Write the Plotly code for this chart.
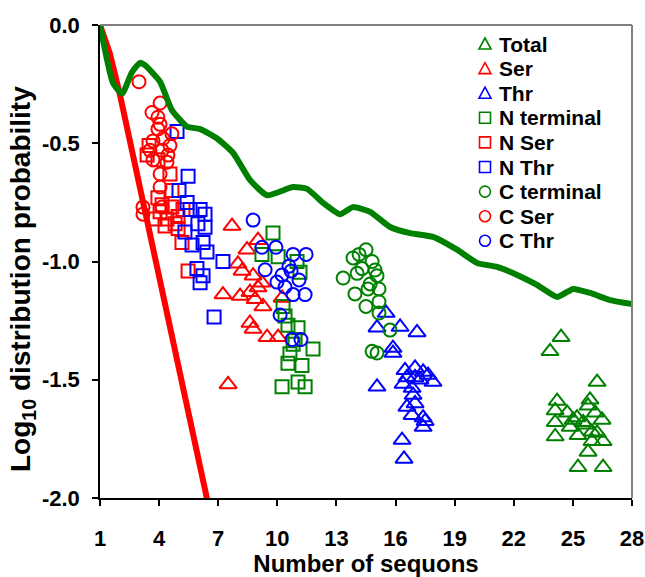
import plotly.graph_objects as go

# ---- observed sequon-count clusters (x = number of sequons, y = log10 probability) ----
total_x = [24.40, 23.84, 26.23, 24.20, 24.10, 24.71, 25.21, 25.01, 25.77, 25.87, 26.13, 26.48,
           24.10, 24.86, 25.62, 25.97, 26.23, 24.10, 25.26, 25.97, 26.53, 25.77, 25.26, 26.53, 25.52]
total_y = [-1.32, -1.38, -1.51, -1.59, -1.63, -1.64, -1.66, -1.67, -1.61, -1.585, -1.64, -1.67,
           -1.68, -1.70, -1.69, -1.72, -1.725, -1.74, -1.735, -1.76, -1.76, -1.805, -1.87, -1.87, -1.68]

ser_x = [7.70, 8.46, 9.02, 8.00, 8.21, 8.77, 9.22, 9.02, 8.61, 8.11, 7.24, 8.87, 9.27, 10.24,
         8.61, 8.77, 9.48, 10.04, 7.50]
ser_y = [-0.85, -0.95, -0.91, -1.01, -1.04, -1.06, -1.09, -1.11, -1.13, -1.146, -1.14, -1.16, -1.19,
         -1.154, -1.26, -1.285, -1.32, -1.32, -1.52]

thr_x = [15.52, 15.06, 16.23, 17.09, 15.87, 15.87, 15.06, 16.48, 16.99, 17.40, 17.65, 16.58, 16.99,
         17.90, 16.38, 16.84, 16.89, 16.99, 16.58, 16.84, 17.40, 17.50, 17.40, 16.33, 16.43, 17.24]
thr_y = [-1.218, -1.28, -1.277, -1.30, -1.366, -1.387, -1.53, -1.46, -1.45, -1.467, -1.48, -1.49, -1.49,
         -1.51, -1.518, -1.535, -1.565, -1.60, -1.615, -1.65, -1.66, -1.675, -1.70, -1.755, -1.835, -1.50]

nterm_x = [9.78, 9.22, 10.04, 11.00, 11.15, 10.29, 10.54, 11.05, 10.80, 11.81, 10.64, 10.54, 11.25,
           10.24, 11.05, 11.41, 10.39, 10.90]
nterm_y = [-0.88, -0.97, -0.98, -1.00, -1.045, -1.19, -1.27, -1.28, -1.35, -1.37, -1.39, -1.43, -1.44,
           -1.53, -1.51, -1.53, -1.23, -1.33]

nser_x = [3.49, 3.39, 3.94, 4.55, 4.65, 3.94, 4.15, 4.65, 4.05, 4.40, 4.96, 4.81, 5.21, 5.16, 5.47,
          4.96, 4.30, 3.79]
nser_y = [-0.51, -0.55, -0.57, -0.63, -0.70, -0.73, -0.76, -0.77, -0.79, -0.82, -0.81, -0.84, -0.78,
          -0.92, -1.04, -0.86, -0.85, -0.82]

nthr_x = [4.91, 5.47, 5.01, 5.42, 6.08, 5.97, 5.31, 6.33, 5.67, 6.23, 6.43, 7.24, 5.92, 6.23, 6.08,
          6.79, 5.57, 6.33]
nthr_y = [-0.45, -0.64, -0.70, -0.75, -0.78, -0.84, -0.875, -0.855, -0.93, -0.92, -0.96, -1.00, -1.03,
          -1.06, -1.09, -1.235, -0.78, -0.80]

cterm_x = [14.50, 14.15, 13.84, 13.34, 14.05, 14.96, 15.06, 14.71, 14.60, 15.16, 13.94, 15.16, 14.50,
           15.16, 15.72, 14.81, 15.06, 14.30, 14.81]
cterm_y = [-0.95, -0.97, -0.985, -1.07, -1.05, -1.036, -1.06, -1.095, -1.116, -1.116, -1.137, -1.17,
           -1.19, -1.218, -1.29, -1.38, -1.387, -1.03, -1.00]

cser_x = [2.98, 4.05, 3.64, 3.94, 4.05, 3.94, 4.65, 4.20, 3.69, 4.55, 4.15, 3.54, 4.45, 3.69, 4.40,
          4.05, 4.05, 3.18, 3.18, 4.15]
cser_y = [-0.24, -0.33, -0.37, -0.39, -0.42, -0.44, -0.46, -0.48, -0.49, -0.51, -0.53, -0.53, -0.55,
          -0.57, -0.58, -0.63, -0.685, -0.77, -0.80, -0.77]

cthr_x = [8.77, 9.22, 9.93, 10.80, 11.46, 9.38, 10.59, 10.24, 9.98, 10.39, 11.10, 10.80, 11.41, 10.14,
          10.75, 11.20, 10.70]
cthr_y = [-0.825, -0.94, -0.94, -0.97, -0.97, -1.035, -1.02, -1.057, -1.087, -1.108, -1.078, -1.14,
          -1.14, -1.226, -1.33, -1.33, -1.04]

# ---- reference distributions ----
red_curve_x = [1, 1.5, 2, 3, 4, 5, 6, 6.5]
red_curve_y = [0, -0.12, -0.29, -0.675, -1.06, -1.45, -1.83, -2.03]

green_curve_x = [1, 1.66, 2.12, 2.62, 3.03, 3.28, 4.05, 4.65, 5.42, 6.08, 6.94, 7.75, 8.61, 9.48,
                 10.80, 11.51, 12.32, 13.18, 13.84, 14.71, 15.72, 16.74, 17.90, 19.12, 20.14, 21.15,
                 22.17, 23.18, 24.20, 25.01, 25.87, 26.89, 28]
green_curve_y = [0, -0.245, -0.29, -0.20, -0.16, -0.17, -0.24, -0.36, -0.43, -0.44, -0.48, -0.54,
                 -0.655, -0.72, -0.685, -0.693, -0.752, -0.80, -0.77, -0.79, -0.854, -0.88, -0.896,
                 -0.95, -1.006, -1.023, -1.057, -1.099, -1.15, -1.116, -1.133, -1.163, -1.18]

x_ticks = [1, 4, 7, 10, 13, 16, 19, 22, 25, 28]
y_ticks = [0, -0.5, -1.0, -1.5, -2.0]
y_tick_labels = ["0.0", "-0.5", "-1.0", "-1.5", "-2.0"]

GREEN, RED, BLUE = "#008000", "#FF0000", "#0000FF"
FONT = "Liberation Sans, Arial, sans-serif"
W, H = 645, 577
M_L, M_R, M_T, M_B = 100, 13, 25, 79

# name, x, y, plot symbol, colour, size, key shape
series = [
    ("Total", total_x, total_y, "triangle-up-open", GREEN, 15, "triangle"),
    ("Ser", ser_x, ser_y, "triangle-up-open", RED, 15, "triangle"),
    ("Thr", thr_x, thr_y, "triangle-up-open", BLUE, 15, "triangle"),
    ("N terminal", nterm_x, nterm_y, "square-open", GREEN, 13, "square"),
    ("N Ser", nser_x, nser_y, "square-open", RED, 13, "square"),
    ("N Thr", nthr_x, nthr_y, "square-open", BLUE, 13, "square"),
    ("C terminal", cterm_x, cterm_y, "circle-open", GREEN, 13, "circle"),
    ("C Ser", cser_x, cser_y, "circle-open", RED, 13, "circle"),
    ("C Thr", cthr_x, cthr_y, "circle-open", BLUE, 13, "circle"),
]

fig = go.Figure()
for name, xs, ys, sym, col, size, _ in series:
    fig.add_trace(go.Scatter(
        x=xs, y=ys, mode="markers", name=name, showlegend=False,
        marker=dict(symbol=sym, size=size, color=col, line=dict(width=2, color=col)),
    ))

fig.add_trace(go.Scatter(x=red_curve_x, y=red_curve_y, mode="lines", showlegend=False,
                         line=dict(color=RED, width=6)))
fig.add_trace(go.Scatter(x=green_curve_x, y=green_curve_y, mode="lines", showlegend=False,
                         line=dict(color=GREEN, width=6, shape="spline", smoothing=0.5)))

# compact key in the upper-right corner of the plotting area
plot_w = W - M_L - M_R
plot_h = H - M_T - M_B
key_symbol_px, key_text_px = 485, 497
key_first_row_px, key_row_step = 44, 24.6
half = 5.5

annotations = []
shapes = [
    dict(type="line", xref="paper", yref="paper", x0=0, x1=1, y0=1, y1=1,
         line=dict(color="#808080", width=2)),
    dict(type="line", xref="paper", yref="paper", x0=1, x1=1, y0=0, y1=1,
         line=dict(color="#808080", width=2)),
]
for i, (name, _, _, _, col, _, key) in enumerate(series):
    row_y = 1 - (key_first_row_px + i * key_row_step - M_T) / plot_h
    anchor_x = (key_symbol_px - M_L) / plot_w
    base = dict(xref="paper", yref="paper", xsizemode="pixel", ysizemode="pixel",
                xanchor=anchor_x, yanchor=row_y, line=dict(color=col, width=1.6),
                fillcolor="rgba(0,0,0,0)")
    if key == "triangle":
        shapes.append(dict(base, type="path", path="M -6,-5 L 6,-5 L 0,6 Z"))
    elif key == "square":
        shapes.append(dict(base, type="rect", x0=-half, x1=half, y0=-half, y1=half))
    else:
        shapes.append(dict(base, type="circle", x0=-half, x1=half, y0=-half, y1=half))
    annotations.append(dict(
        xref="paper", yref="paper", x=(key_text_px - M_L) / plot_w, y=row_y,
        xanchor="left", yanchor="middle", showarrow=False, text=name,
        font=dict(family=FONT, size=21, weight="bold", color="black"),
    ))

# vertical axis title, centred slightly below the middle of the plot
annotations.append(dict(
    xref="paper", yref="paper", x=(22 - M_L) / plot_w, y=1 - (279 - M_T) / plot_h,
    xanchor="center", yanchor="middle", textangle=-90, showarrow=False,
    text="Log<sub>10</sub> distribution probability",
    font=dict(family=FONT, size=28, weight="bold", color="black"),
))

fig.update_layout(
    width=W, height=H,
    margin=dict(l=M_L, r=M_R, t=M_T, b=M_B),
    paper_bgcolor="white", plot_bgcolor="white",
    font=dict(family=FONT, color="black", size=22, weight="bold"),
    showlegend=False,
    xaxis=dict(
        range=[1, 28], tickvals=x_ticks, ticks="outside", ticklen=6, tickwidth=1.5,
        tickcolor="black", showline=True, linecolor="black", linewidth=1.5,
        showgrid=False, zeroline=False, ticklabelstandoff=14, automargin=False,
        tickfont=dict(family=FONT, size=22, weight="bold"),
        title=dict(text="Number of sequons", standoff=22,
                   font=dict(family=FONT, size=24, weight="bold")),
    ),
    yaxis=dict(
        range=[-2.0, 0.0], tickvals=y_ticks, ticktext=y_tick_labels, ticks="outside",
        ticklen=6, tickwidth=1.5, tickcolor="black", showline=True, linecolor="black",
        linewidth=1.5, showgrid=False, zeroline=False, ticklabelstandoff=8, automargin=False,
        tickfont=dict(family=FONT, size=22, weight="bold"),
    ),
    annotations=annotations,
    shapes=shapes,
)

fig.write_html("out.html")
